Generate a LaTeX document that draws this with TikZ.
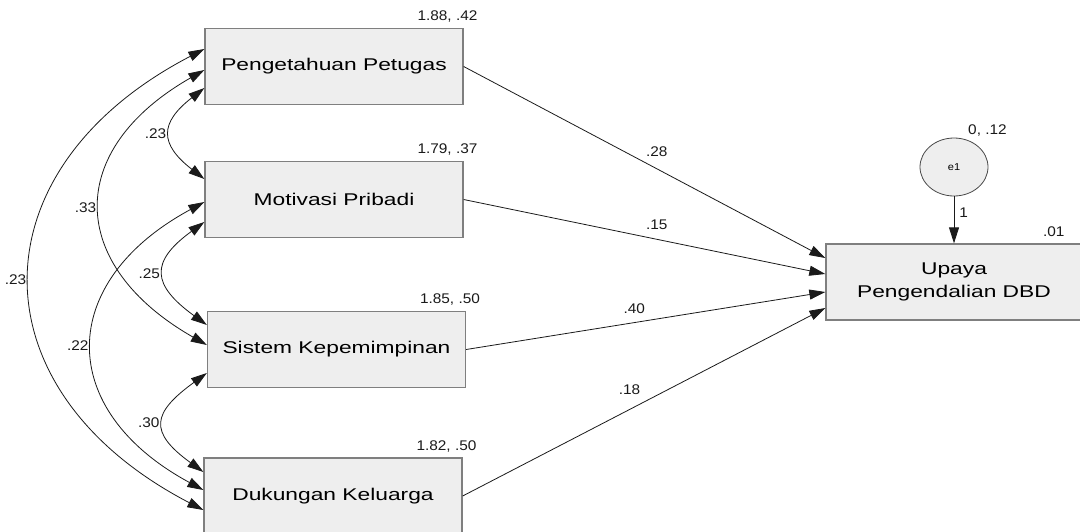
\documentclass[tikz,border=0pt]{standalone}
\usepackage{fontspec}
\setmainfont{Liberation Sans}
\newfontfamily\boxfont[FakeStretch=1.34]{Liberation Sans}
\newfontfamily\numfont[FakeStretch=1.1]{Liberation Sans}
\usepackage{xcolor}
\usepackage{tikz}
\usetikzlibrary{arrows.meta,calc,shapes.geometric}
\definecolor{boxfill}{HTML}{EEEEEE}
\definecolor{boxline}{HTML}{7F7F7F}
\definecolor{ink}{HTML}{1A1A1A}
\tikzset{
  obs/.style={draw=boxline, fill=boxfill, line width=1.3pt, inner sep=0pt,
    minimum width=258pt, minimum height=76pt, align=center,
    font=\boxfont\fontsize{17}{23}\selectfont},
  err/.style={ellipse, draw=ink!80, fill=boxfill, line width=0.8pt, inner sep=0pt,
    minimum width=68pt, minimum height=58pt, font=\numfont\fontsize{10}{12}\selectfont},
  lbl/.style={text=ink, inner sep=0pt, font=\numfont\fontsize{14}{16}\selectfont},
  reg/.style={draw=ink, line width=0.8pt, -{Triangle[length=16pt,width=10pt]}},
  cov/.style={draw=ink, line width=0.8pt,
    {Triangle[length=16pt,width=10pt]}-{Triangle[length=16pt,width=10pt]}}
}

\begin{document}
\begin{tikzpicture}[x=1pt, y=-1pt]
    \useasboundingbox (0,0) rectangle (1080,531);
    \clip (0,0) rectangle (1080,531);

    % --- EXOGENOUS ---
    \node[obs] (peng) at (334,66.5) {Pengetahuan Petugas};
    \node[obs] (moti) at (334,199.5) {Motivasi Pribadi};
    \node[obs] (sist) at (336.5,349.5) {Sistem Kepemimpinan};
    \node[obs] (duku) at (333,496) {Dukungan Keluarga};

    \node[lbl, anchor=base east] at ([xshift=14pt,yshift=7pt]peng.north east) {1.88, .42};
    \node[lbl, anchor=base east] at ([xshift=14pt,yshift=7pt]moti.north east) {1.79, .37};
    \node[lbl, anchor=base east] at ([xshift=14pt,yshift=7pt]sist.north east) {1.85, .50};
    \node[lbl, anchor=base east] at ([xshift=14pt,yshift=7pt]duku.north east) {1.82, .50};

    % --- ENDOGENOUS ---
    \node[obs, minimum width=256pt] (upay) at (954,282) {Upaya\\Pengendalian DBD};
    \node[lbl, anchor=base east] at ([xshift=-18pt,yshift=7pt]upay.north east) {.01};

    \node[err] (e1) at (954,167) {e1};
    \node[lbl, anchor=base west] at ([xshift=14pt,yshift=3pt]e1.north) {0, .12};
    \draw[reg] (e1) -- (upay) node[lbl, pos=0.35, right=5pt] {1};

    % regression weights
    \draw[reg] (peng.east) -- ($(upay.west)+(0,-24)$) node[lbl, pos=0.534, above=12pt] {.28};
    \draw[reg] (moti.east) -- ($(upay.west)+(0,-8)$) node[lbl, pos=0.534, above=9pt] {.15};
    \draw[reg] (sist.east) -- ($(upay.west)+(0,10)$) node[lbl, pos=0.468, above=9pt] {.40};
    \draw[reg] (duku.east) -- ($(upay.west)+(0,26)$) node[lbl, pos=0.46, above=14pt] {.18};

    % covariances
    \draw[cov] ($(peng.west)+(0,21.5)$) .. controls +(-45,35) and +(-45,-35) .. ($(moti.west)+(0,-20.5)$)
        node[lbl, midway, left=4pt] {.23};
    \draw[cov] ($(moti.west)+(0,22.5)$) .. controls +(-55,40) and +(-55,-40) .. ($(sist.west)+(0,-24.5)$)
        node[lbl, midway, left=4pt] {.25};
    \draw[cov] ($(sist.west)+(0,23.5)$) .. controls +(-55,40) and +(-55,-40) .. ($(duku.west)+(0,-24)$)
        node[lbl, midway, left=4pt] {.30};
    \draw[cov] ($(peng.west)+(0,3.5)$) .. controls +(-140,80) and +(-140,-80) .. ($(sist.west)+(0,-4.5)$)
        node[lbl, midway, left=4pt] {.33};
    \draw[cov] ($(moti.west)+(0,2.5)$) .. controls +(-148,80) and +(-148,-80) .. ($(duku.west)+(0,-6)$)
        node[lbl, midway, left=4pt] {.22};
    \draw[cov] ($(peng.west)+(0,-17.5)$) .. controls +(-231,120) and +(-231,-120) .. ($(duku.west)+(0,14)$)
        node[lbl, midway, left=4pt] {.23};
\end{tikzpicture}
\end{document}
